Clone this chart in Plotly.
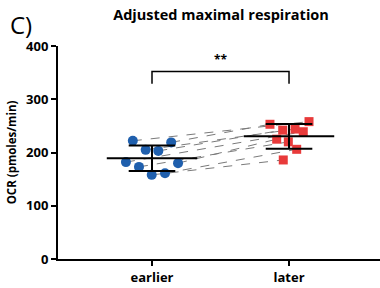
import plotly.graph_objects as go
import numpy as np

categories = ["earlier", "later"]
earlier_vals = [222, 219, 205, 203, 182, 173, 180, 158, 161]
later_vals = [253, 258, 242, 244, 239, 225, 220, 206, 186]
earlier_jitter = [-0.14, 0.14, -0.046, 0.046, -0.19, -0.095, 0.19, -0.002, 0.095]
later_jitter = [-0.139, 0.146, -0.046, 0.044, 0.104, -0.09, -0.005, 0.056, -0.042]
y_ticks = [0, 100, 200, 300, 400]
sig_label = "**"

ex = [0 + j for j in earlier_jitter]
lx = [1 + j for j in later_jitter]

# pairing by rank
eo = np.argsort(earlier_vals)[::-1]
lo = np.argsort(later_vals)[::-1]
px, py = [], []
for a, b in zip(eo, lo):
    px += [ex[a], lx[b], None]
    py += [earlier_vals[a], later_vals[b], None]

FONT = "Open Sans, Lato, sans-serif"

fig = go.Figure()
fig.add_trace(go.Scatter(x=px, y=py, mode="lines",
                         line=dict(color="#7a7a7a", width=1, dash="dash"),
                         hoverinfo="skip", showlegend=False))

fig.add_trace(go.Scatter(x=ex, y=earlier_vals, mode="markers",
                         marker=dict(symbol="circle", size=10, color="#1f5fad"),
                         showlegend=False))
fig.add_trace(go.Scatter(x=lx, y=later_vals, mode="markers",
                         marker=dict(symbol="square", size=9, color="#e83a3a"),
                         showlegend=False))

# mean and SD bars
for i, vals in enumerate([earlier_vals, later_vals]):
    m = float(np.mean(vals))
    s = float(np.std(vals, ddof=1))
    fig.add_trace(go.Scatter(x=[i - 0.33, i + 0.33], y=[m, m], mode="lines",
                             line=dict(color="black", width=2), showlegend=False))
    fig.add_trace(go.Scatter(x=[i, i], y=[m - s, m + s], mode="lines",
                             line=dict(color="black", width=2), showlegend=False))
    for v in (m - s, m + s):
        fig.add_trace(go.Scatter(x=[i - 0.17, i + 0.17], y=[v, v], mode="lines",
                                 line=dict(color="black", width=2), showlegend=False))

# significance bracket
fig.add_trace(go.Scatter(x=[0, 0, 1, 1], y=[329, 352, 352, 329], mode="lines",
                         line=dict(color="black", width=1.5), showlegend=False))
fig.add_annotation(x=0.5, y=352, text=sig_label, showarrow=False, yanchor="bottom",
                   yshift=2, font=dict(size=12, color="black", family=FONT, weight="bold"))

plot_w = 380 - 58
plot_h = 288 - 46 - 29
fig.add_annotation(x=(21 - 58) / plot_w, y=(288 - 29 - 24) / plot_h, xref="paper", yref="paper",
                   xanchor="center", yanchor="middle", text="C)", showarrow=False,
                   font=dict(size=24, color="black", family=FONT))

fig.update_layout(
    width=380, height=288,
    margin=dict(l=58, r=0, t=46, b=29),
    plot_bgcolor="white", paper_bgcolor="white",
    font=dict(family=FONT, color="black"),
    title=dict(text="Adjusted maximal respiration", x=221 / 380, xanchor="center",
               y=1 - 15 / 288, yanchor="middle", font=dict(size=14.5, weight="bold", family=FONT)),
    xaxis=dict(range=[-0.686, 1.664], tickvals=[0, 1], ticktext=categories,
               showline=True, linecolor="black", linewidth=2, ticks="outside",
               ticklen=5, tickwidth=2, tickcolor="black", showgrid=False, zeroline=False,
               tickfont=dict(size=13, family=FONT, weight="bold")),
    yaxis=dict(range=[0, 400], tickvals=y_ticks, showline=True, linecolor="black",
               linewidth=2, ticks="outside", ticklen=5, tickwidth=2, tickcolor="black",
               showgrid=False, zeroline=False,
               tickfont=dict(size=13, family=FONT, weight="bold"),
               title=dict(text="OCR (pmoles/min)", font=dict(size=11.5, weight="bold", family=FONT),
                          standoff=7)),
)

fig.write_html("out.html", config={"displayModeBar": False},
               post_script="document.body.style.margin='0';document.body.style.overflow='hidden';")
